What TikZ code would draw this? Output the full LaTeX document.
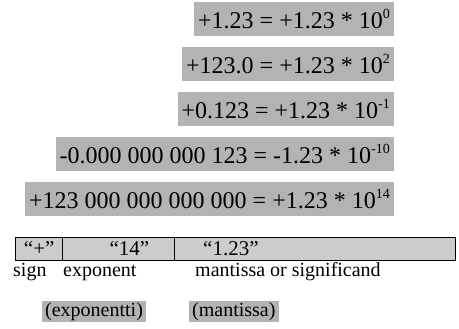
\documentclass[tikz,border=0pt]{standalone}
\usepackage{fontspec}
\setmainfont{Liberation Serif}
\usetikzlibrary{positioning}

\definecolor{boxgray}{RGB}{179,179,179}
\definecolor{cellgray}{RGB}{204,204,204}
\newcommand{\pw}[1]{\raisebox{0.42em}{\fontsize{14}{14}\selectfont #1}}

\begin{document}
\begin{tikzpicture}[x=1pt, y=-1pt,
    eqbox/.style={fill=boxgray, anchor=east, minimum height=34pt, inner xsep=4pt, inner ysep=0pt, font=\fontsize{24}{28}\selectfont},
    cell/.style={draw=black, line width=1.4pt, fill=cellgray, anchor=west, minimum height=23pt, inner sep=0pt},
    celltxt/.style={inner sep=0pt, font=\fontsize{21}{24}\selectfont},
    lbl/.style={inner sep=0pt, anchor=base west, font=\fontsize{20}{24}\selectfont},
    lblbox/.style={fill=boxgray, anchor=west, minimum height=21pt, inner xsep=3pt, inner ysep=0pt, font=\fontsize{20}{24}\selectfont}
]
\useasboundingbox (0,0) rectangle (459,329);

% examples
\node[eqbox] (e1) at (394,19) {+1.23 = +1.23 * 10\pw{0}\hspace{3pt}};
\node[eqbox] (e2) at (394,64) {+123.0 = +1.23 * 10\pw{2}\hspace{3pt}};
\node[eqbox] (e3) at (394,109) {+0.123 = +1.23 * 10\pw{-1}\hspace{3pt}};
\node[eqbox] (e4) at (394,154) {-0.000 000 000 123 = -1.23 * 10\pw{-10}\hspace{3pt}};
\node[eqbox] (e5) at (394,199) {+123 000 000 000 000 = +1.23 * 10\pw{14}\hspace{3pt}};

% stored fields
\node[cell, minimum width=47pt] (sgn) at (15,249) {};
\node[cell, minimum width=112pt] (expo) at (62,249) {};
\node[cell, minimum width=281pt] (mant) at (174,249) {};
\node[celltxt] (vsgn) at (sgn.center) {“+”};
\node[celltxt, anchor=east] (vexp) at ([xshift=-26pt]expo.east) {“14”};
\node[celltxt, anchor=west] (vmant) at ([xshift=29pt]mant.west) {“1.23”};

% names
\node[lbl] (nsgn) at (13,277) {sign};
\node[lbl] (nexp) at (63,277) {exponent};
\node[lbl] (nmant) at (195,277) {mantissa or significand};
\node[lblbox] (fexp) at (42,312) {(exponentti)};
\node[lblbox] (fmant) at (189,312) {(mantissa)};
\end{tikzpicture}
\end{document}
